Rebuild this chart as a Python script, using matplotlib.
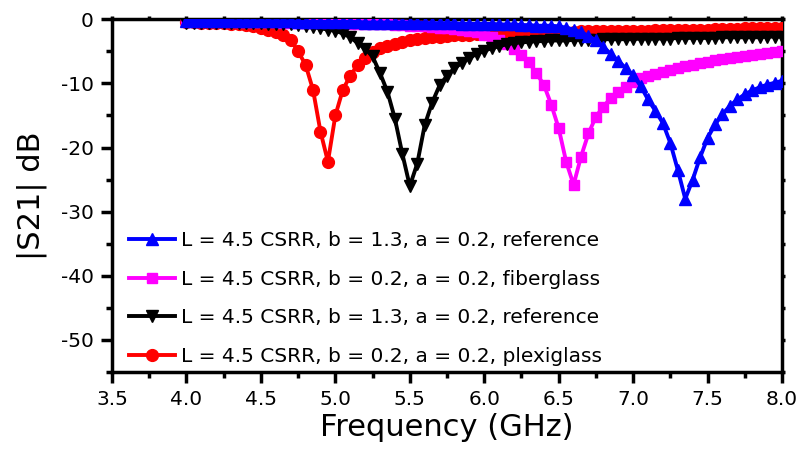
import matplotlib
matplotlib.use('Agg')
import matplotlib.pyplot as plt
from matplotlib.ticker import MultipleLocator, FormatStrFormatter

plt.rcParams['font.family'] = ['DejaVu Sans']
plt.rcParams['axes.unicode_minus'] = False

freq = [4.00, 4.05, 4.10, 4.15, 4.20, 4.25, 4.30, 4.35, 4.40, 4.45,
        4.50, 4.55, 4.60, 4.65, 4.70, 4.75, 4.80, 4.85, 4.90, 4.95,
        5.00, 5.05, 5.10, 5.15, 5.20, 5.25, 5.30, 5.35, 5.40, 5.45,
        5.50, 5.55, 5.60, 5.65, 5.70, 5.75, 5.80, 5.85, 5.90, 5.95,
        6.00, 6.05, 6.10, 6.15, 6.20, 6.25, 6.30, 6.35, 6.40, 6.45,
        6.50, 6.55, 6.60, 6.65, 6.70, 6.75, 6.80, 6.85, 6.90, 6.95,
        7.00, 7.05, 7.10, 7.15, 7.20, 7.25, 7.30, 7.35, 7.40, 7.45,
        7.50, 7.55, 7.60, 7.65, 7.70, 7.75, 7.80, 7.85, 7.90, 7.95,
        8.00]

ref_b13_blue = [-0.2, -0.2, -0.2, -0.2, -0.2, -0.2, -0.3, -0.3, -0.3, -0.3,
                -0.3, -0.3, -0.3, -0.3, -0.3, -0.4, -0.4, -0.4, -0.4, -0.4,
                -0.4, -0.4, -0.4, -0.4, -0.5, -0.5, -0.5, -0.5, -0.5, -0.5,
                -0.5, -0.5, -0.6, -0.6, -0.6, -0.6, -0.6, -0.7, -0.7, -0.7,
                -0.7, -0.7, -0.8, -0.8, -0.8, -0.9, -0.9, -1.0, -1.0, -1.0,
                -1.1, -1.3, -1.6, -2.0, -2.6, -3.3, -4.3, -5.4, -6.5, -7.6,
                -8.7, -10.4, -12.5, -14.3, -16.2, -19.3, -23.5, -28.0, -25.0, -21.5,
                -18.5, -16.4, -14.8, -13.5, -12.5, -11.7, -11.1, -10.6, -10.2, -9.9,
                -9.6]

fiberglass_b02 = [-0.3, -0.3, -0.3, -0.3, -0.3, -0.3, -0.3, -0.4, -0.4, -0.4,
                  -0.4, -0.4, -0.4, -0.5, -0.5, -0.5, -0.5, -0.5, -0.6, -0.6,
                  -0.6, -0.6, -0.7, -0.7, -0.7, -0.8, -0.8, -0.8, -0.9, -0.9,
                  -1.0, -1.0, -1.1, -1.2, -1.3, -1.4, -1.5, -1.6, -1.8, -2.0,
                  -2.4, -2.8, -3.3, -3.9, -4.6, -5.6, -6.7, -8.4, -10.2, -13.3,
                  -17.0, -22.2, -25.8, -21.4, -17.8, -15.2, -13.6, -12.3, -11.3, -10.5,
                  -9.7, -9.2, -8.8, -8.5, -8.2, -7.9, -7.6, -7.3, -7.1, -6.8,
                  -6.6, -6.4, -6.2, -6.0, -5.9, -5.7, -5.6, -5.4, -5.3, -5.1,
                  -5.0]

ref_b13_black = [-0.5, -0.5, -0.5, -0.5, -0.5, -0.5, -0.6, -0.6, -0.6, -0.6,
                 -0.6, -0.7, -0.7, -0.7, -0.8, -0.9, -1.0, -1.2, -1.4, -1.6,
                 -1.8, -2.2, -2.8, -3.7, -4.6, -5.8, -8.4, -11.3, -15.5, -21.0,
                 -26.0, -22.5, -16.5, -13.0, -10.3, -8.8, -7.6, -6.8, -6.0, -5.4,
                 -4.9, -4.5, -4.2, -3.9, -3.7, -3.6, -3.5, -3.4, -3.4, -3.3,
                 -3.3, -3.3, -3.2, -3.2, -3.2, -3.2, -3.1, -3.1, -3.1, -3.1,
                 -3.1, -3.0, -3.0, -3.0, -3.0, -3.0, -2.9, -2.9, -2.9, -2.9,
                 -2.9, -2.9, -2.8, -2.8, -2.8, -2.8, -2.8, -2.8, -2.7, -2.7,
                 -2.7]

plexiglass_b02 = [-0.4, -0.4, -0.5, -0.5, -0.6, -0.6, -0.7, -0.8, -0.9, -1.0,
                  -1.3, -1.6, -2.0, -2.5, -3.2, -5.0, -7.1, -11.0, -17.5, -22.2,
                  -15.0, -11.0, -8.8, -7.1, -6.0, -5.1, -4.5, -4.1, -3.8, -3.5,
                  -3.3, -3.1, -2.9, -2.8, -2.7, -2.6, -2.5, -2.4, -2.4, -2.3,
                  -2.3, -2.2, -2.2, -2.2, -2.1, -2.1, -2.1, -2.1, -2.0, -2.0,
                  -2.0, -2.0, -2.0, -1.9, -1.9, -1.9, -1.9, -1.9, -1.8, -1.8,
                  -1.8, -1.8, -1.8, -1.7, -1.7, -1.7, -1.7, -1.6, -1.6, -1.6,
                  -1.6, -1.5, -1.5, -1.5, -1.5, -1.4, -1.4, -1.4, -1.4, -1.4,
                  -1.4]

labels = ["L = 4.5 CSRR, b = 1.3, a = 0.2, reference",
          "L = 4.5 CSRR, b = 0.2, a = 0.2, fiberglass",
          "L = 4.5 CSRR, b = 1.3, a = 0.2, reference",
          "L = 4.5 CSRR, b = 0.2, a = 0.2, plexiglass"]

fig = plt.figure(figsize=(8.03, 4.49), dpi=100)
ax = fig.add_axes([0.1395, 0.1715, 0.8344, 0.7855])

lw = 2.8
h_red, = ax.plot(freq, plexiglass_b02, color='#ff0000', marker='o', markersize=8.5,
                 lw=lw, label=labels[3], zorder=3)
h_mag, = ax.plot(freq, fiberglass_b02, color='#ff00ff', marker='s', markersize=7.5,
                 lw=lw, label=labels[1], zorder=3)
h_blk, = ax.plot(freq, ref_b13_black, color='#000000', marker='v', markersize=9,
                 lw=lw, label=labels[2], zorder=4)
h_blu, = ax.plot(freq, ref_b13_blue, color='#0000ff', marker='^', markersize=9,
                 lw=lw, label=labels[0], zorder=4)

ax.set_xlim(3.5, 8.0)
ax.set_ylim(-55, 0)
ax.xaxis.set_major_locator(MultipleLocator(0.5))
ax.xaxis.set_minor_locator(MultipleLocator(0.25))
ax.yaxis.set_major_locator(MultipleLocator(10))
ax.yaxis.set_minor_locator(MultipleLocator(5))
ax.xaxis.set_major_formatter(FormatStrFormatter('%.1f'))
ax.yaxis.set_major_formatter(FormatStrFormatter('%d'))

for s in ax.spines.values():
    s.set_linewidth(2.5)

ax.tick_params(which='major', direction='out', length=8, width=2.5,
               labelsize=14.5, pad=5, bottom=True, left=True, top=True, right=True)
ax.tick_params(which='minor', direction='out', length=4.5, width=2.5,
               bottom=True, left=True, top=True, right=True)
for axis in (ax.xaxis, ax.yaxis):
    for tk in axis.get_major_ticks() + axis.get_minor_ticks():
        tk.tick2line.set_markersize(2)

ax.set_xlabel('Frequency (GHz)', fontsize=22, labelpad=3)
ax.set_ylabel('|S21| dB', fontsize=22, labelpad=10)

leg = ax.legend(handles=[h_blu, h_mag, h_blk, h_red], loc='lower left',
                bbox_to_anchor=(0.01, -0.012), frameon=False, fontsize=14.5,
                handlelength=2.3, handletextpad=0.3, labelspacing=0.98,
                borderpad=0.0)

fig.savefig('out.png', dpi=100)
